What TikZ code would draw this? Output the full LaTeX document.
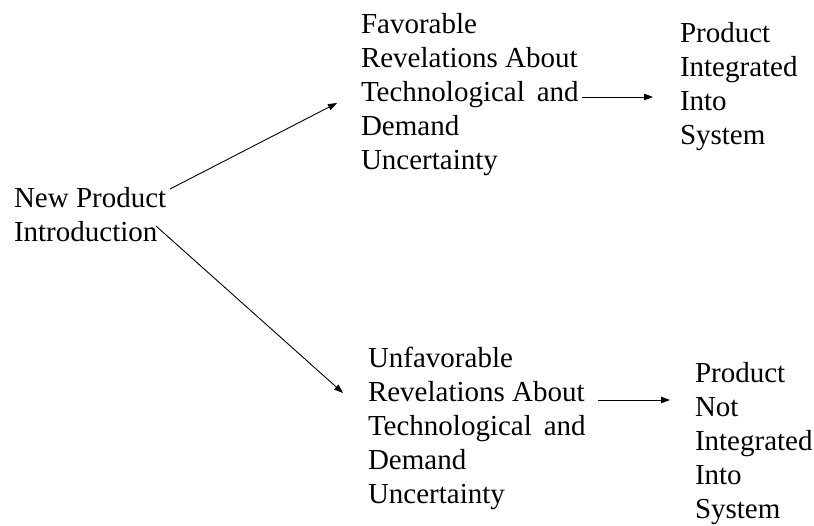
\documentclass[tikz,border=0pt]{standalone}
\usepackage{fontspec}
\newfontfamily\tnr{Liberation Serif}
\usetikzlibrary{arrows.meta}
\tikzset{
  lbl/.style={anchor=base west, inner sep=0pt, outer sep=0pt, align=left, font=\tnr\fontsize{29}{34}\selectfont},
  arr/.style={line width=0.9pt, -{Triangle[length=9pt,width=6.5pt]}}
}
\begin{document}
\begin{tikzpicture}[x=1pt,y=-1pt]
\useasboundingbox (0,0) rectangle (814,525);
\node[lbl] (np) at (14,241) {New Product\\Introduction};
\node[lbl] (fav) at (361,169) {Favorable\\Revelations About\\Technological\hspace{12pt}and\\Demand\\Uncertainty};
\node[lbl] (pi) at (680,144) {Product\\Integrated\\Into\\System};
\node[lbl] (unf) at (368,503) {Unfavorable\\Revelations About\\Technological\hspace{12pt}and\\Demand\\Uncertainty};
\node[lbl] (pni) at (695,518) {Product\\Not\\Integrated\\Into\\System};
\coordinate (a1s) at (170,189);
\coordinate (a1e) at (337,103);
\coordinate (a2s) at (582,97);
\coordinate (a2e) at (653,97);
\coordinate (a3s) at (156,226);
\coordinate (a3e) at (343,393);
\coordinate (a4s) at (598,400);
\coordinate (a4e) at (670,400);
\draw[arr] (a1s) -- (a1e);
\draw[arr] (a2s) -- (a2e);
\draw[arr] (a3s) -- (a3e);
\draw[arr] (a4s) -- (a4e);
\end{tikzpicture}
\end{document}
